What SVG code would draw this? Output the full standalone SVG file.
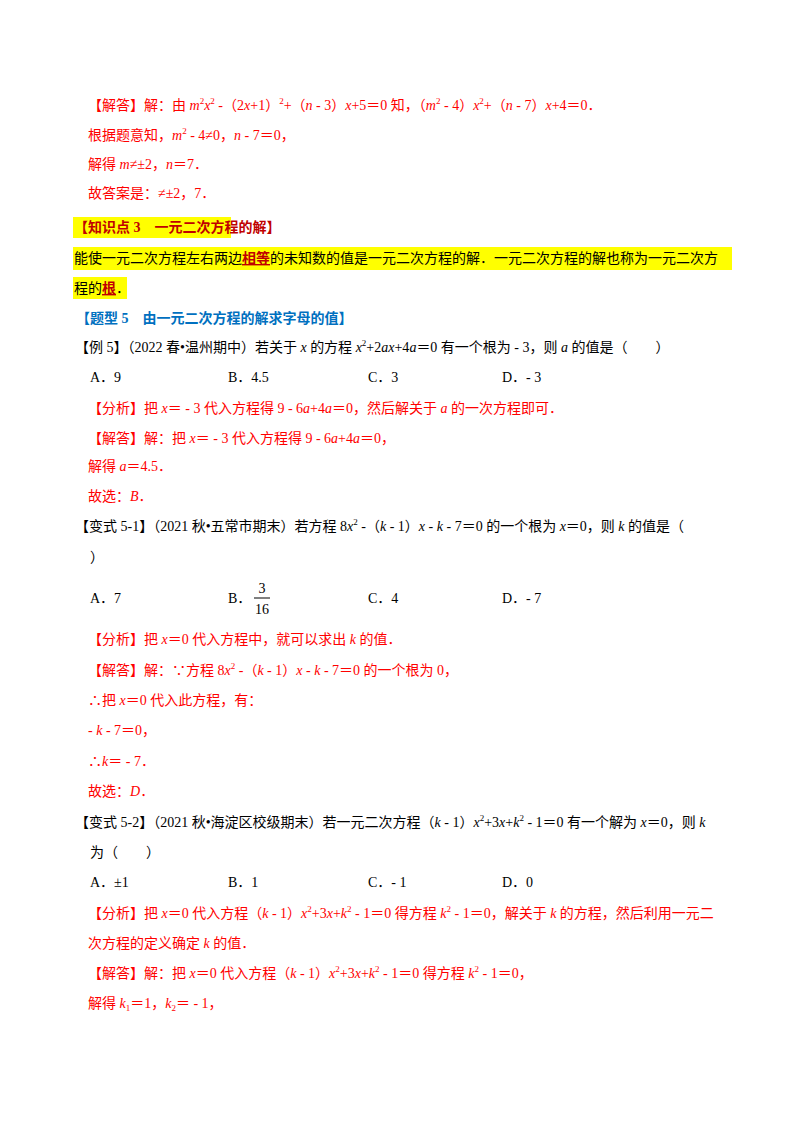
<svg xmlns="http://www.w3.org/2000/svg" width="800" height="1132" viewBox="0 0 800 1132">
<style>
text{font-family:"Liberation Serif","Noto Sans CJK SC",serif;font-size:14px;fill:#000}
.r{fill:#ff0000}
.b{fill:#0070c0;font-weight:bold}
.d{fill:#c00000;font-weight:bold}
.i{font-style:italic}
.s{font-size:9px}
</style>
<rect width="800" height="1132" fill="#fff"/>
<g id="part1">
<text class="r" x="88" y="110">【解答】解：由 <tspan class="i">m</tspan><tspan class="s" dy="-6">2</tspan><tspan class="i" dy="6">x</tspan><tspan class="s" dy="-6">2</tspan><tspan dy="6"> -（2</tspan><tspan class="i">x</tspan>+1）<tspan class="s" dy="-6">2</tspan><tspan dy="6">+（</tspan><tspan class="i">n</tspan> - 3）<tspan class="i">x</tspan>+5＝0 知，（<tspan class="i">m</tspan><tspan class="s" dy="-6">2</tspan><tspan dy="6"> - 4）</tspan><tspan class="i">x</tspan><tspan class="s" dy="-6">2</tspan><tspan dy="6">+（</tspan><tspan class="i">n</tspan> - 7）<tspan class="i">x</tspan>+4＝0．</text>
<text class="r" x="88" y="140">根据题意知，<tspan class="i">m</tspan><tspan class="s" dy="-6">2</tspan><tspan dy="6"> - 4≠0，</tspan><tspan class="i">n</tspan> - 7＝0，</text>
<text class="r" x="88" y="169">解得 <tspan class="i">m</tspan>≠±2，<tspan class="i">n</tspan>＝7．</text>
<text class="r" x="88" y="198">故答案是：≠±2，7．</text>
</g>
<g id="knowledge">
<rect x="73" y="217" width="158" height="21" fill="#ffff00"/>
<text class="d" x="74" y="232">【知识点 3　一元二次方程的解】</text>
<rect x="73" y="247" width="659" height="23" fill="#ffff00"/>
<rect x="73" y="277" width="54" height="22" fill="#ffff00"/>
<text x="74" y="263">能使一元二次方程左右两边<tspan class="d" text-decoration="underline">相等</tspan>的未知数的值是一元二次方程的解．一元二次方程的解也称为一元二次方</text>
<text x="74" y="293">程的<tspan class="d" text-decoration="underline">根</tspan>．</text>
<text class="b" x="76" y="323">【题型 5　由一元二次方程的解求字母的值】</text>
</g>
<g id="ex5">
<text x="75" y="352">【例 5】（2022 春•温州期中）若关于 <tspan class="i">x</tspan> 的方程 <tspan class="i">x</tspan><tspan class="s" dy="-6">2</tspan><tspan dy="6">+2</tspan><tspan class="i">ax</tspan>+4<tspan class="i">a</tspan>＝0 有一个根为 - 3，则 <tspan class="i">a</tspan> 的值是（　　）</text>
<text x="90" y="382">A．9</text><text x="228" y="382">B．4.5</text><text x="368" y="382">C．3</text><text x="502" y="382">D．- 3</text>
<text class="r" x="88" y="413">【分析】把 <tspan class="i">x</tspan>＝ - 3 代入方程得 9 - 6<tspan class="i">a</tspan>+4<tspan class="i">a</tspan>＝0，然后解关于 <tspan class="i">a</tspan> 的一次方程即可．</text>
<text class="r" x="88" y="443">【解答】解：把 <tspan class="i">x</tspan>＝ - 3 代入方程得 9 - 6<tspan class="i">a</tspan>+4<tspan class="i">a</tspan>＝0，</text>
<text class="r" x="88" y="471">解得 <tspan class="i">a</tspan>＝4.5．</text>
<text class="r" x="88" y="501">故选：<tspan class="i">B</tspan>．</text>
</g>
<g id="var51">
<text x="75" y="531">【变式 5-1】（2021 秋•五常市期末）若方程 8<tspan class="i">x</tspan><tspan class="s" dy="-6">2</tspan><tspan dy="6"> -（</tspan><tspan class="i">k</tspan> - 1）<tspan class="i">x</tspan> - <tspan class="i">k</tspan> - 7＝0 的一个根为 <tspan class="i">x</tspan>＝0，则 <tspan class="i">k</tspan> 的值是（</text>
<text x="90" y="562">）</text>
<text x="90" y="603">A．7</text><text x="228" y="603">B．</text>
<text x="262" y="593" text-anchor="middle">3</text><line x1="254" y1="598" x2="270" y2="598" stroke="#000" stroke-width="1"/><text x="262" y="614" text-anchor="middle">16</text>
<text x="368" y="603">C．4</text><text x="502" y="603">D．- 7</text>
<text class="r" x="88" y="644">【分析】把 <tspan class="i">x</tspan>＝0 代入方程中，就可以求出 <tspan class="i">k</tspan> 的值．</text>
<text class="r" x="88" y="675">【解答】解：∵方程 8<tspan class="i">x</tspan><tspan class="s" dy="-6">2</tspan><tspan dy="6"> -（</tspan><tspan class="i">k</tspan> - 1）<tspan class="i">x</tspan> - <tspan class="i">k</tspan> - 7＝0 的一个根为 0，</text>
<text class="r" x="88" y="705">∴把 <tspan class="i">x</tspan>＝0 代入此方程，有：</text>
<text class="r" x="88" y="735"> - <tspan class="i">k</tspan> - 7＝0，</text>
<text class="r" x="88" y="766">∴<tspan class="i">k</tspan>＝ - 7．</text>
<text class="r" x="88" y="796">故选：<tspan class="i">D</tspan>．</text>
</g>
<g id="var52">
<text x="75" y="827">【变式 5-2】（2021 秋•海淀区校级期末）若一元二次方程（<tspan class="i">k</tspan> - 1）<tspan class="i">x</tspan><tspan class="s" dy="-6">2</tspan><tspan dy="6">+3</tspan><tspan class="i">x</tspan>+<tspan class="i">k</tspan><tspan class="s" dy="-6">2</tspan><tspan dy="6"> - 1＝0 有一个解为 </tspan><tspan class="i">x</tspan>＝0，则 <tspan class="i">k</tspan></text>
<text x="90" y="857">为（　　）</text>
<text x="90" y="887">A．±1</text><text x="228" y="887">B．1</text><text x="368" y="887">C．- 1</text><text x="502" y="887">D．0</text>
<text class="r" x="88" y="918">【分析】把 <tspan class="i">x</tspan>＝0 代入方程（<tspan class="i">k</tspan> - 1）<tspan class="i">x</tspan><tspan class="s" dy="-6">2</tspan><tspan dy="6">+3</tspan><tspan class="i">x</tspan>+<tspan class="i">k</tspan><tspan class="s" dy="-6">2</tspan><tspan dy="6"> - 1＝0 得方程 </tspan><tspan class="i">k</tspan><tspan class="s" dy="-6">2</tspan><tspan dy="6"> - 1＝0，解关于 </tspan><tspan class="i">k</tspan> 的方程，然后利用一元二</text>
<text class="r" x="88" y="948">次方程的定义确定 <tspan class="i">k</tspan> 的值．</text>
<text class="r" x="88" y="978">【解答】解：把 <tspan class="i">x</tspan>＝0 代入方程（<tspan class="i">k</tspan> - 1）<tspan class="i">x</tspan><tspan class="s" dy="-6">2</tspan><tspan dy="6">+3</tspan><tspan class="i">x</tspan>+<tspan class="i">k</tspan><tspan class="s" dy="-6">2</tspan><tspan dy="6"> - 1＝0 得方程 </tspan><tspan class="i">k</tspan><tspan class="s" dy="-6">2</tspan><tspan dy="6"> - 1＝0，</tspan></text>
<text class="r" x="88" y="1008">解得 <tspan class="i">k</tspan><tspan class="s" dy="3">1</tspan><tspan dy="-3">＝1，</tspan><tspan class="i">k</tspan><tspan class="s" dy="3">2</tspan><tspan dy="-3">＝ - 1，</tspan></text>
</g>
</svg>
